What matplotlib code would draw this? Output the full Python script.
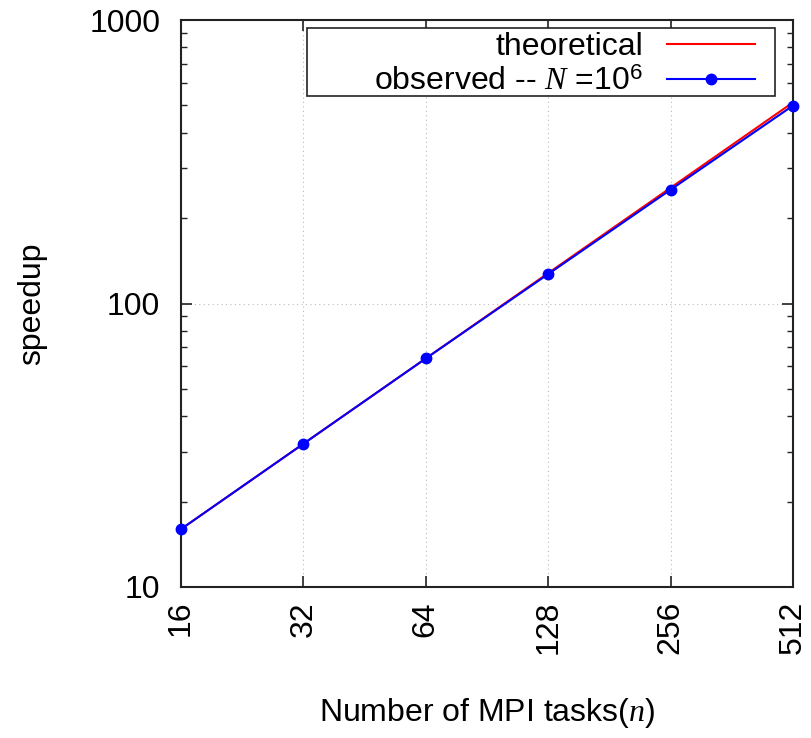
import numpy as np
import matplotlib
matplotlib.use("Agg")
import matplotlib.pyplot as plt
from matplotlib.patches import Rectangle
from matplotlib.ticker import FixedLocator, NullFormatter, LogLocator

plt.rcParams["font.family"] = ["Liberation Sans", "DejaVu Sans"]
plt.rcParams["mathtext.fontset"] = "custom"
plt.rcParams["mathtext.rm"] = "Liberation Sans"
plt.rcParams["mathtext.it"] = "Liberation Serif:italic"

# data
tasks = [16, 32, 64, 128, 256, 512]
theoretical = [16, 32, 64, 128, 256, 512]
observed = [16, 32, 64, 127, 252, 499]
xtick_labels = ["16", "32", "64", "128", "256", "512"]
ytick_values = [10, 100, 1000]
ytick_labels = ["10", "100", "1000"]

FS = 23

fig = plt.figure(figsize=(8.11, 7.38), dpi=100)
ax = fig.add_axes([181 / 811, 1 - 587 / 738, (793 - 181) / 811, (587 - 20) / 738])

ax.plot(tasks, theoretical, color="red", lw=1.5, label="theoretical", zorder=3)
ax.plot(tasks, observed, color="blue", lw=1.5, marker="o", ms=7.5,
        label="observed -- $N$ =10$^{6}$", zorder=4, clip_on=False)

ax.set_xscale("log", base=2)
ax.set_yscale("log")
ax.set_xlim(16, 512)
ax.set_ylim(10, 1000)

ax.xaxis.set_major_locator(FixedLocator(tasks))
ax.set_xticklabels(xtick_labels, rotation=90, fontsize=FS)
ax.xaxis.set_minor_locator(FixedLocator([]))
ax.yaxis.set_major_locator(FixedLocator(ytick_values))
ax.set_yticklabels(ytick_labels, fontsize=FS)
ax.yaxis.set_minor_locator(LogLocator(base=10, subs=np.arange(2, 10)))
ax.yaxis.set_minor_formatter(NullFormatter())

ax.tick_params(which="both", direction="in", top=True, right=True, color="#222222")
ax.tick_params(which="major", length=8, width=1.2)
ax.tick_params(which="minor", length=4, width=1.0)
ax.tick_params(axis="y", which="major", pad=15)
ax.tick_params(axis="x", which="major", pad=10)

for s in ax.spines.values():
    s.set_linewidth(1.5)
    s.set_color("#222222")

ax.grid(True, which="major", linestyle=(0, (1, 3)), color="#bbbbbb", lw=0.8)

ax.set_xlabel("Number of MPI tasks$(n)$", fontsize=FS, labelpad=30)
ax.set_ylabel("speedup", fontsize=FS, labelpad=30)

# legend box (gnuplot-style wide key)
ax.add_patch(Rectangle((0.206, 0.866), 0.971 - 0.206, 0.986 - 0.866,
                       transform=ax.transAxes, facecolor="white",
                       edgecolor="#222222", lw=1.2, zorder=5))
leg = ax.legend(loc="upper right", bbox_to_anchor=(0.938, 0.979), fontsize=FS,
                markerfirst=False, alignment="right", frameon=False,
                handlelength=2.75, borderpad=0, labelspacing=0.15,
                handletextpad=0.75, borderaxespad=0)
leg.set_zorder(6)

fig.savefig("out.png", dpi=100)
